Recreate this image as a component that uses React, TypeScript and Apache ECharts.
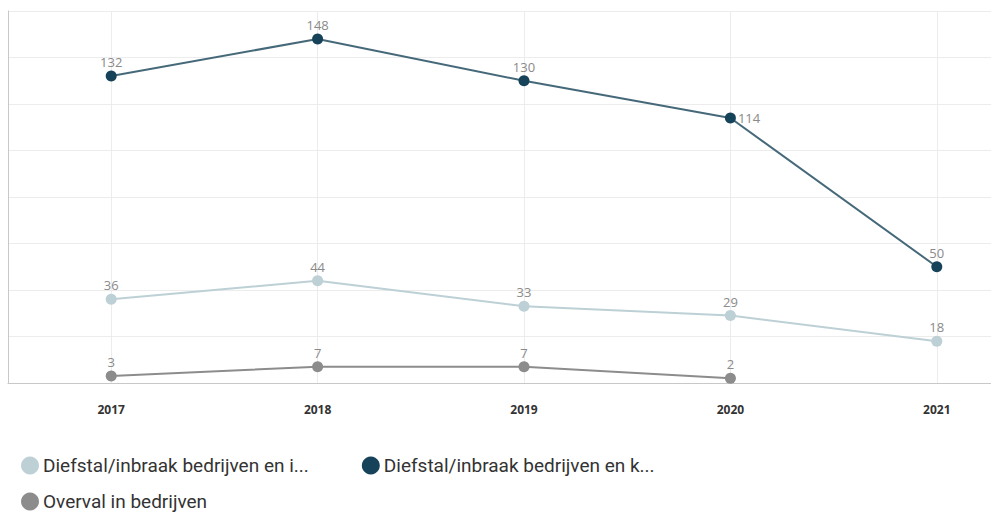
import React, { useEffect, useRef } from "react";
import * as echarts from "echarts";

const years = ["2017", "2018", "2019", "2020", "2021"];
const seriesNames = [
  "Diefstal/inbraak bedrijven en i...",
  "Diefstal/inbraak bedrijven en k...",
  "Overval in bedrijven",
];
const lightValues = [36, 44, 33, 29, 18];
const darkValues = [132, 148, 130, 114, 50];
const grayValues = [3, 7, 7, 2, null];
const labelPositions = ["top", "top", "top", "right", "top"];

export default function App() {
  const ref = useRef<HTMLDivElement>(null);
  useEffect(() => {
    if (!ref.current) return;
    const chart = echarts.init(ref.current, null, { renderer: "svg" });
    const labelStyle = {
      show: true,
      color: "#8a8a8a",
      fontSize: 13,
      fontFamily: "Open Sans",
      distance: 2,
    };
    const mk = (name: string, data: (number | null)[], line: string, marker: string, withPos = false) => ({
      name,
      type: "line",
      data: data.map((v, i) =>
        withPos && labelPositions[i] !== "top"
          ? { value: v, label: { position: labelPositions[i] } }
          : v
      ),
      symbol: "circle",
      symbolSize: 11,
      lineStyle: { color: line, width: 2 },
      itemStyle: { color: marker },
      label: { ...labelStyle, position: "top" },
      connectNulls: false,
    });
    chart.setOption({
      animation: false,
      color: ["#bdd0d6", "#0e3a52", "#858585"],
      grid: { left: 8, right: 0, top: 11, bottom: 130, containLabel: false },
      xAxis: {
        type: "category",
        data: years,
        boundaryGap: true,
        axisLine: { show: true, lineStyle: { color: "#c8c8c8", width: 1 } },
        axisTick: {
          show: true,
          inside: true,
          alignWithLabel: true,
          length: 372,
          lineStyle: { color: "#ececec", width: 1 },
        },
        axisLabel: {
          color: "#333",
          fontSize: 12,
          fontWeight: "bold",
          fontFamily: "Open Sans",
          margin: 20,
        },
        splitLine: { show: false },
      },
      yAxis: {
        type: "value",
        min: 0,
        max: 160,
        interval: 20,
        axisLine: { show: true, lineStyle: { color: "#c8c8c8", width: 1 } },
        axisTick: { show: false },
        axisLabel: { show: false },
        splitLine: { show: true, lineStyle: { color: "#ececec", width: 1 } },
      },
      legend: {
        left: 16,
        top: 451,
        width: 760,
        icon: "circle",
        itemWidth: 18,
        itemHeight: 18,
        itemGap: 17,
        textStyle: { color: "#333", fontSize: 19, lineHeight: 18, fontFamily: "Roboto", padding: [0, 36, 0, -1] },
        data: seriesNames,
      },
      series: [
        mk(seriesNames[0], lightValues, "#bdd0d6", "#bdd0d6"),
        mk(seriesNames[1], darkValues, "#46697a", "#17435a", true),
        mk(seriesNames[2], grayValues, "#8c8c8c", "#8c8c8c"),
      ],
    });
    return () => chart.dispose();
  }, []);
  return (
    <div style={{ position: "fixed", left: 0, top: 0, width: 991, height: 513, overflow: "hidden", background: "#fff" }}>
      <div ref={ref} style={{ width: 1040, height: 513 }} />
    </div>
  );
}
